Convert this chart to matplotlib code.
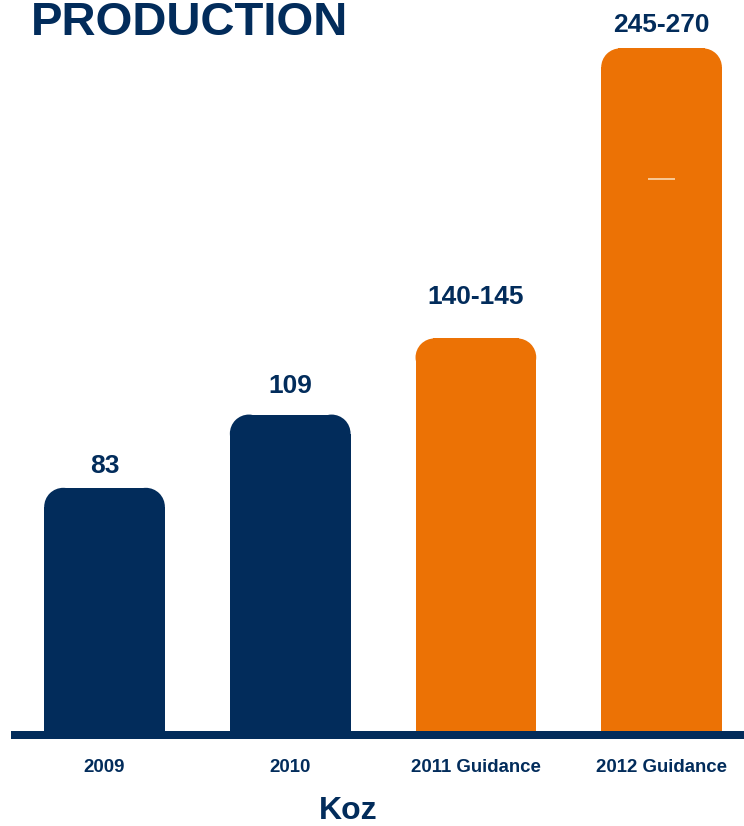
import matplotlib.pyplot as plt
from matplotlib.patches import Ellipse, Rectangle

categories = ['2009', '2010', '2011 Guidance', '2012 Guidance']
bar_heights = [83, 108, 134, 233]
value_labels = ['83', '109', '140-145', '245-270']
bar_colors = ['#022c5b', '#022c5b', '#ec7205', '#ec7205']

navy = '#022c5b'
plt.rcParams['font.family'] = ['Liberation Sans', 'DejaVu Sans']

XMIN, XMAX = -0.563, 3.444
YMIN, YMAX = -2.73, 249.5

fig = plt.figure(figsize=(7.44, 8.26), dpi=100)
ax = fig.add_axes([0, 87 / 826, 1, 739 / 826])
ax.set_xlim(XMIN, XMAX)
ax.set_ylim(YMIN, YMAX)
ax.axis('off')

# data units per pixel, so the rounded corners stay circular
bbox = ax.get_window_extent()
x_per_px = (XMAX - XMIN) / bbox.width
y_per_px = (YMAX - YMIN) / bbox.height

width = 0.65
rx = 19 * x_per_px
ry = 19 * y_per_px
for i, (h, c) in enumerate(zip(bar_heights, bar_colors)):
    x0 = i - width / 2
    ax.add_patch(Rectangle((x0, 0), width, h - ry, fc=c, ec='none'))
    ax.add_patch(Rectangle((x0 + rx * 0.9, h - ry - 0.5), width - 1.8 * rx, ry + 0.5,
                           fc=c, ec='none'))
    for cx in (x0 + rx, x0 + width - rx):
        ax.add_patch(Ellipse((cx, h - ry), 2 * rx, 2 * ry, fc=c, ec='none'))

# small light stroke inside the 2012 bar
ax.hlines(188.4, 3 - 0.073, 3 + 0.073, color='#fbd9b0', lw=1.2)

# baseline
ax.axhspan(YMIN, 0, xmin=11 / 744, xmax=1, color=navy, lw=0)

gaps_px = [15, 22, 34, 16]
for i, (h, lab, g) in enumerate(zip(bar_heights, value_labels, gaps_px)):
    ax.annotate(lab, (i, h), xytext=(0, g * 0.72), textcoords='offset points',
                ha='center', va='baseline', fontsize=19, fontweight='bold', color=navy)

for i, cat in enumerate(categories):
    fig.text((i - XMIN) / (XMAX - XMIN), 1 - 768 / 826, cat,
             ha='center', va='center', fontsize=13.4, fontweight='bold', color=navy)

fig.text(348 / 744, 1 - 811 / 826, 'Koz', ha='center', va='center',
         fontsize=23, fontweight='bold', color=navy)
fig.text(31 / 744, 1 - 35 / 826, 'PRODUCTION', ha='left', va='baseline',
         fontsize=34, fontweight='bold', color=navy)

fig.savefig('out.png', dpi=100)
